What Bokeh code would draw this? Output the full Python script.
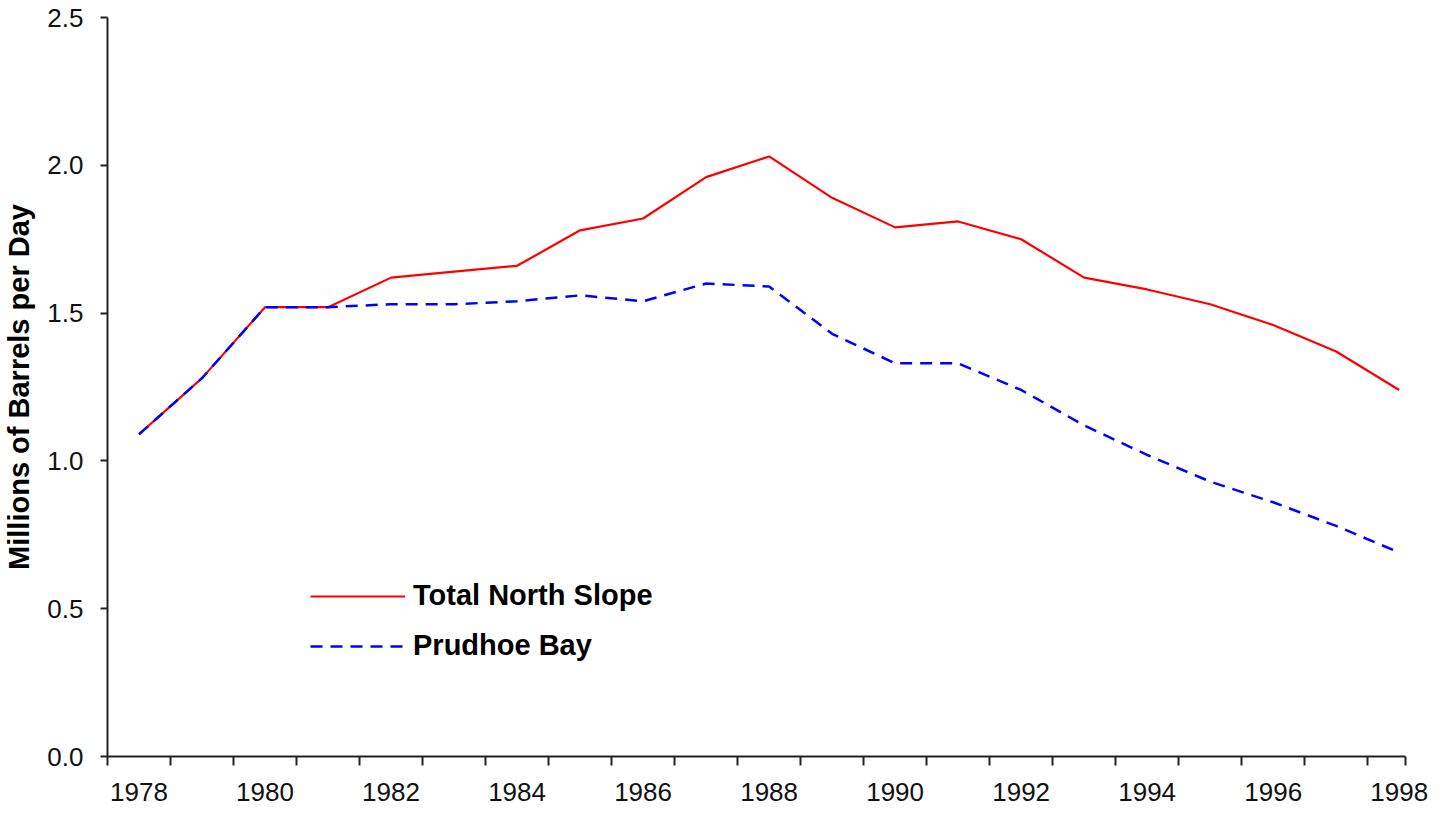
from bokeh.plotting import figure
from bokeh.models import Range1d, FixedTicker, PrintfTickFormatter, Legend, LegendItem
from bokeh.embed import file_html
from bokeh.resources import INLINE

years = list(range(1978, 1999))
total_north_slope = [1.09, 1.28, 1.52, 1.52, 1.62, 1.64, 1.66, 1.78, 1.82, 1.96, 2.03,
                     1.89, 1.79, 1.81, 1.75, 1.62, 1.58, 1.53, 1.46, 1.37, 1.24]
prudhoe_bay = [1.09, 1.28, 1.52, 1.52, 1.53, 1.53, 1.54, 1.56, 1.54, 1.60, 1.59,
               1.43, 1.33, 1.33, 1.24, 1.12, 1.02, 0.93, 0.86, 0.78, 0.69]
x_tick_labels = [1978, 1980, 1982, 1984, 1986, 1988, 1990, 1992, 1994, 1996, 1998]
y_ticks = [0.0, 0.5, 1.0, 1.5, 2.0, 2.5]

FONT = "Liberation Sans"

p = figure(width=1435, height=803, title=".",
           min_border_left=99, min_border_top=17, min_border_right=30, min_border_bottom=43,
           x_range=Range1d(1977.5, 1998.1), y_range=Range1d(0, 2.5),
           output_backend="svg", toolbar_location=None)
p.title.text_font_size = "10px"
p.title.text_color = "white"
p.title.standoff = 5
p.outline_line_color = None
p.xgrid.visible = False
p.ygrid.visible = False
p.background_fill_color = "white"
p.border_fill_color = "white"

r1 = p.line(years, total_north_slope, line_color="#ff0000", line_width=2.2)
r2 = p.line(years, prudhoe_bay, line_color="#0000ff", line_width=2.5, line_dash="12 8")

# x axis: labels at even years, tick marks between categories
minor = [y + 0.5 for y in range(1977, 1998)] + [1998.1]
p.xaxis.ticker = FixedTicker(ticks=x_tick_labels, minor_ticks=minor)
p.xaxis.major_tick_out = 0
p.xaxis.major_tick_in = 0
p.xaxis.minor_tick_out = 9
p.xaxis.minor_tick_in = 0
p.xaxis.minor_tick_line_width = 2
p.xaxis.minor_tick_line_color = "#222222"
p.xaxis.major_label_standoff = 17

p.yaxis.ticker = FixedTicker(ticks=y_ticks)
p.yaxis.formatter = PrintfTickFormatter(format="%.1f")
p.yaxis.major_tick_out = 7
p.yaxis.major_tick_in = 0
p.yaxis.minor_tick_out = 0
p.yaxis.minor_tick_in = 0
p.yaxis.major_tick_line_width = 2
p.yaxis.major_tick_line_color = "#222222"
p.yaxis.major_label_standoff = 17
p.yaxis.axis_label = "Millions of Barrels per Day"
p.yaxis.axis_label_text_font = FONT
p.yaxis.axis_label_text_font_style = "bold"
p.yaxis.axis_label_text_font_size = "29px"
p.yaxis.axis_label_text_color = "black"
p.yaxis.axis_label_standoff = 9

for ax in (p.xaxis, p.yaxis):
    ax.axis_line_width = 2
    ax.axis_line_color = "#222222"
    ax.major_label_text_font = FONT
    ax.major_label_text_font_size = "26px"
    ax.major_label_text_color = "#111111"

legend = Legend(items=[LegendItem(label="Total North Slope", renderers=[r1]),
                       LegendItem(label="Prudhoe Bay", renderers=[r2])],
                location=(203, 94), orientation="vertical",
                glyph_width=95, glyph_height=30, label_height=30, spacing=17,
                label_standoff=8, padding=0, margin=0,
                border_line_alpha=0, background_fill_alpha=0,
                label_text_font=FONT, label_text_font_style="bold",
                label_text_font_size="29px", label_text_color="black")
p.add_layout(legend, "center")

open("out.html", "w").write(file_html(p, INLINE))
